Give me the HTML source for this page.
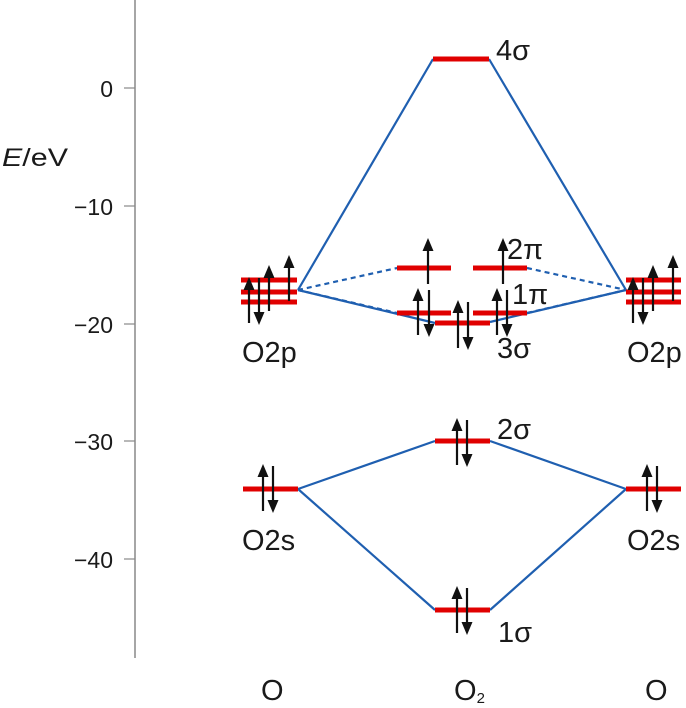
<!DOCTYPE html>
<html><head><meta charset="utf-8"><style>
html,body{margin:0;padding:0;background:#fff}
svg{display:block}
text{font-family:"Liberation Sans",sans-serif;fill:#1a1a1a}
</style></head><body>
<svg width="686" height="708" viewBox="0 0 686 708" xmlns="http://www.w3.org/2000/svg">
<!-- axis -->
<line x1="135" y1="0" x2="135" y2="658" stroke="#888" stroke-width="1.5"/>
<g stroke="#888" stroke-width="1.2">
<line x1="124" y1="88" x2="135" y2="88"/><line x1="124" y1="206" x2="135" y2="206"/>
<line x1="124" y1="324" x2="135" y2="324"/><line x1="124" y1="441" x2="135" y2="441"/>
<line x1="124" y1="559" x2="135" y2="559"/>
</g>
<g font-size="23" text-anchor="end">
<text x="113" y="97">0</text><text x="113" y="215">−10</text><text x="113" y="333">−20</text>
<text x="113" y="450">−30</text><text x="113" y="568">−40</text>
</g>
<text x="2" y="166" font-size="25" textLength="66" lengthAdjust="spacingAndGlyphs"><tspan font-style="italic">E</tspan>/eV</text>
<!-- connecting lines -->
<g stroke="#1f5fb0" stroke-width="2.2" fill="none">
<line x1="298" y1="290" x2="433" y2="59"/><line x1="489" y1="59" x2="626" y2="290"/>
<line x1="298" y1="290" x2="435" y2="323"/><line x1="490" y1="322" x2="626" y2="290"/>
<line x1="298" y1="489" x2="435" y2="441"/><line x1="490" y1="441" x2="626" y2="489"/>
<line x1="298" y1="489" x2="435" y2="610"/><line x1="490" y1="610" x2="626" y2="489"/>
</g>
<g stroke="#1f5fb0" stroke-width="2.2" fill="none" stroke-dasharray="5,4">
<line x1="298" y1="290" x2="397" y2="268"/><line x1="298" y1="290" x2="397" y2="313"/>
<line x1="527" y1="268" x2="626" y2="290"/><line x1="527" y1="313" x2="626" y2="290"/>
</g>
<!-- levels -->
<g stroke="#e00000" stroke-width="5">
<line x1="433" y1="59" x2="489" y2="59"/>
<line x1="397" y1="268" x2="451" y2="268"/><line x1="473" y1="268" x2="527" y2="268"/>
<line x1="397" y1="313" x2="451" y2="313"/><line x1="473" y1="313" x2="527" y2="313"/>
<line x1="435" y1="323" x2="490" y2="323"/>
<line x1="435" y1="441" x2="490" y2="441"/>
<line x1="435" y1="610" x2="490" y2="610"/>
<line x1="241" y1="280" x2="297" y2="280"/><line x1="241" y1="292" x2="297" y2="292"/><line x1="241" y1="302" x2="297" y2="302"/>
<line x1="626" y1="280" x2="681" y2="280"/><line x1="626" y1="292" x2="681" y2="292"/><line x1="626" y1="302" x2="681" y2="302"/>
<line x1="243" y1="489" x2="298" y2="489"/><line x1="626" y1="489" x2="681" y2="489"/>
</g>
<!-- arrows: up arrows (bottom, tip) -->
<g stroke="#111" stroke-width="2.2">
<line x1="249" y1="323" x2="249" y2="288"/><line x1="259" y1="278" x2="259" y2="314"/>
<line x1="269" y1="311" x2="269" y2="276"/><line x1="289" y1="301" x2="289" y2="266"/>
<line x1="633" y1="323" x2="633" y2="288"/><line x1="643" y1="278" x2="643" y2="314"/>
<line x1="653" y1="311" x2="653" y2="276"/><line x1="673" y1="301" x2="673" y2="266"/>
<line x1="428" y1="284" x2="428" y2="249"/><line x1="503" y1="284" x2="503" y2="249"/>
<line x1="418" y1="335" x2="418" y2="299"/><line x1="429" y1="290" x2="429" y2="326"/>
<line x1="497" y1="335" x2="497" y2="299"/><line x1="507" y1="290" x2="507" y2="326"/>
<line x1="458" y1="348" x2="458" y2="311"/><line x1="468" y1="302" x2="468" y2="339"/>
<line x1="457" y1="465" x2="457" y2="429"/><line x1="467" y1="420" x2="467" y2="456"/>
<line x1="457" y1="633" x2="457" y2="597"/><line x1="467" y1="588" x2="467" y2="624"/>
<line x1="263" y1="511" x2="263" y2="475"/><line x1="273" y1="466" x2="273" y2="502"/>
<line x1="647" y1="511" x2="647" y2="475"/><line x1="657" y1="466" x2="657" y2="502"/>
</g>
<g fill="#111">
<polygon points="249,277 243.5,290 254.5,290"/><polygon points="259,325 253.5,312 264.5,312"/>
<polygon points="269,265 263.5,278 274.5,278"/><polygon points="289,255 283.5,268 294.5,268"/>
<polygon points="633,277 627.5,290 638.5,290"/><polygon points="643,325 637.5,312 648.5,312"/>
<polygon points="653,265 647.5,278 658.5,278"/><polygon points="673,255 667.5,268 678.5,268"/>
<polygon points="428,238 422.5,251 433.5,251"/><polygon points="503,238 497.5,251 508.5,251"/>
<polygon points="418,288 412.5,301 423.5,301"/><polygon points="429,337 423.5,324 434.5,324"/>
<polygon points="497,288 491.5,301 502.5,301"/><polygon points="507,337 501.5,324 512.5,324"/>
<polygon points="458,300 452.5,313 463.5,313"/><polygon points="468,350 462.5,337 473.5,337"/>
<polygon points="457,418 451.5,431 462.5,431"/><polygon points="467,467 461.5,454 472.5,454"/>
<polygon points="457,586 451.5,599 462.5,599"/><polygon points="467,635 461.5,622 472.5,622"/>
<polygon points="263,464 257.5,477 268.5,477"/><polygon points="273,513 267.5,500 278.5,500"/>
<polygon points="647,464 641.5,477 652.5,477"/><polygon points="657,513 651.5,500 662.5,500"/>
</g>
<!-- labels -->
<g font-size="29">
<text x="496" y="60">4σ</text>
<text x="507" y="259">2π</text>
<text x="512" y="304">1π</text>
<text x="497" y="358">3σ</text>
<text x="497" y="439">2σ</text>
<text x="498" y="642">1σ</text>
<text x="242" y="362">O2p</text><text x="627" y="362">O2p</text>
<text x="242" y="550">O2s</text><text x="627" y="550">O2s</text>
<text x="261" y="700">O</text>
<text x="454" y="700">O<tspan font-size="15" dy="3">2</tspan></text>
<text x="645" y="700">O</text>
</g>
</svg>
</body></html>
